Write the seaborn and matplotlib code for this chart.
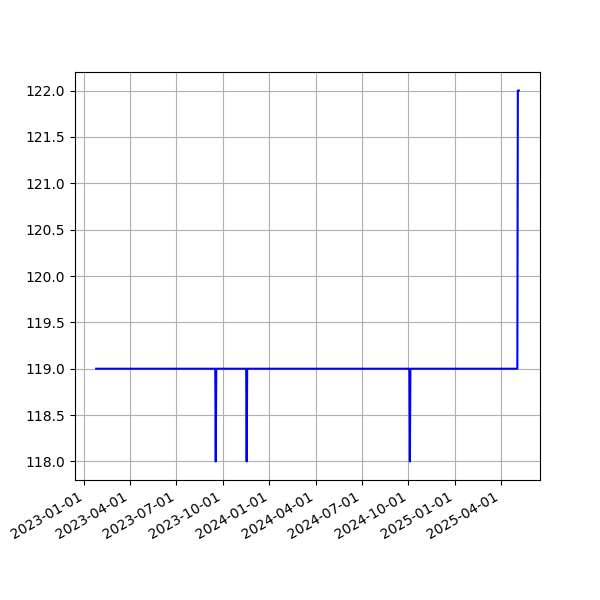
import matplotlib
matplotlib.use("Agg")
import matplotlib.pyplot as plt
import matplotlib.dates as mdates
import seaborn as sns
import pandas as pd

# change points (daily series, flat at 119 between them)
dates = ["2023-01-24", "2023-09-16", "2023-09-17", "2023-09-18",
         "2023-11-16", "2023-11-17", "2023-11-18",
         "2024-10-03", "2024-10-04", "2024-10-05",
         "2025-05-04", "2025-05-05", "2025-05-07"]
values = [119, 119, 118, 119,
          119, 118, 119,
          119, 118, 119,
          119, 122, 122]

df = pd.DataFrame({"date": pd.to_datetime(dates), "value": values})

fig, ax = plt.subplots(figsize=(6, 6), dpi=100)
sns.lineplot(data=df, x="date", y="value", color="blue", estimator=None, ax=ax)
ax.set_xlabel("")
ax.set_ylabel("")
ax.grid(True)
ax.xaxis.set_major_locator(mdates.MonthLocator(bymonth=[1, 4, 7, 10]))
ax.xaxis.set_major_formatter(mdates.DateFormatter("%Y-%m-%d"))
fig.autofmt_xdate()
fig.savefig("out.png")
